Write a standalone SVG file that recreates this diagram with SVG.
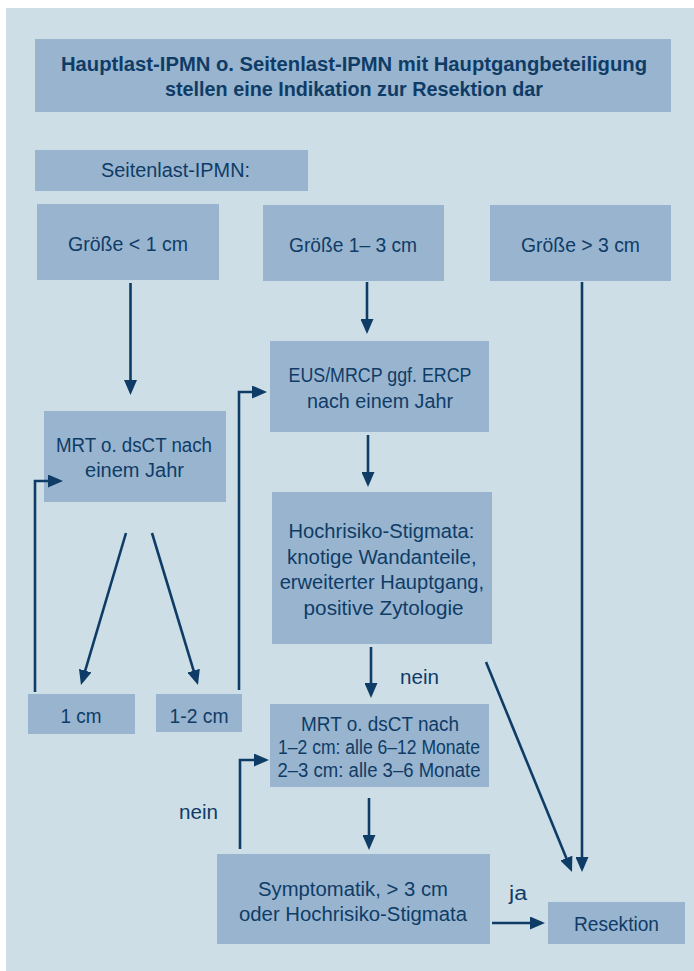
<svg xmlns="http://www.w3.org/2000/svg" width="694" height="971" viewBox="0 0 694 971">
<style>
.box{fill:#98b4cf}
.t{font-family:"Liberation Sans",Arial,sans-serif;font-size:20px;fill:#0f3c66;text-anchor:middle}
.b{font-weight:bold;font-size:20px}
.c{fill:none;stroke:#0f3c66;stroke-width:2.6}
</style>
<defs>
<marker id="ah" markerWidth="15" markerHeight="13" refX="11" refY="6.5" orient="auto" markerUnits="userSpaceOnUse">
<path d="M0,0 L15,6.5 L0,13 Z" fill="#0f3c66"/>
</marker>
</defs>
<rect x="0" y="0" width="694" height="971" fill="#ffffff"/>
<rect x="6" y="8" width="688" height="963" fill="#cedee7"/>

<g id="title">
<rect class="box" x="35" y="39" width="636" height="73"/>
<text class="t b" x="354" y="71" textLength="586" lengthAdjust="spacingAndGlyphs">Hauptlast-IPMN o. Seitenlast-IPMN mit Hauptgangbeteiligung</text>
<text class="t b" x="354" y="96" textLength="378" lengthAdjust="spacingAndGlyphs">stellen eine Indikation zur Resektion dar</text>
</g>
<g id="seitenlast">
<rect class="box" x="35" y="150" width="273" height="41"/>
<text class="t" x="175.5" y="177" textLength="149" lengthAdjust="spacingAndGlyphs">Seitenlast-IPMN:</text>
</g>
<g id="groesse1">
<rect class="box" x="37" y="204" width="182" height="76"/>
<text class="t" x="128" y="251" textLength="120" lengthAdjust="spacingAndGlyphs">Größe &lt; 1 cm</text>
</g>
<g id="groesse2">
<rect class="box" x="263" y="205" width="181" height="76"/>
<text class="t" x="353" y="252" textLength="128" lengthAdjust="spacingAndGlyphs">Größe 1– 3 cm</text>
</g>
<g id="groesse3">
<rect class="box" x="490" y="205" width="181" height="76"/>
<text class="t" x="580.5" y="252" textLength="119" lengthAdjust="spacingAndGlyphs">Größe &gt; 3 cm</text>
</g>
<g id="eus">
<rect class="box" x="270" y="341" width="219" height="91"/>
<text class="t" x="380" y="382" textLength="183" lengthAdjust="spacingAndGlyphs">EUS/MRCP ggf. ERCP</text>
<text class="t" x="380" y="408" textLength="146" lengthAdjust="spacingAndGlyphs">nach einem Jahr</text>
</g>
<g id="mrt1">
<rect class="box" x="44" y="411" width="182" height="91"/>
<text class="t" x="134" y="452" textLength="156" lengthAdjust="spacingAndGlyphs">MRT o. dsCT nach</text>
<text class="t" x="134.5" y="477" textLength="99" lengthAdjust="spacingAndGlyphs">einem Jahr</text>
</g>
<g id="hochrisiko">
<rect class="box" x="272" y="492" width="220" height="152"/>
<text class="t" x="381.4" y="538" textLength="186" lengthAdjust="spacingAndGlyphs">Hochrisiko-Stigmata:</text>
<text class="t" x="381.8" y="563.5" textLength="189.5" lengthAdjust="spacingAndGlyphs">knotige Wandanteile,</text>
<text class="t" x="381.9" y="589" textLength="204.4" lengthAdjust="spacingAndGlyphs">erweiterter Hauptgang,</text>
<text class="t" x="383.6" y="614.5" textLength="160" lengthAdjust="spacingAndGlyphs">positive Zytologie</text>
</g>
<g id="cm1">
<rect class="box" x="28" y="694" width="107" height="40"/>
<text class="t" x="81" y="723" textLength="41" lengthAdjust="spacingAndGlyphs">1 cm</text>
</g>
<g id="cm12">
<rect class="box" x="156" y="694" width="86" height="38"/>
<text class="t" x="199" y="723" textLength="59" lengthAdjust="spacingAndGlyphs">1-2 cm</text>
</g>
<g id="mrt2">
<rect class="box" x="270" y="704" width="219" height="83"/>
<text class="t" x="380" y="731" textLength="158" lengthAdjust="spacingAndGlyphs">MRT o. dsCT nach</text>
<text class="t" x="379" y="754" textLength="202" lengthAdjust="spacingAndGlyphs">1–2 cm: alle 6–12 Monate</text>
<text class="t" x="379" y="777" textLength="203" lengthAdjust="spacingAndGlyphs">2–3 cm: alle 3–6 Monate</text>
</g>
<g id="symptomatik">
<rect class="box" x="217" y="854" width="273" height="90"/>
<text class="t" x="353" y="896" textLength="190" lengthAdjust="spacingAndGlyphs">Symptomatik, &gt; 3 cm</text>
<text class="t" x="353" y="921" textLength="228" lengthAdjust="spacingAndGlyphs">oder Hochrisiko-Stigmata</text>
</g>
<g id="resektion">
<rect class="box" x="548" y="902" width="137" height="42"/>
<text class="t" x="616.5" y="931" textLength="85" lengthAdjust="spacingAndGlyphs">Resektion</text>
</g>

<g id="connectors">
<path class="c" marker-end="url(#ah)" d="M130.5 283 V391"/>
<path class="c" marker-end="url(#ah)" d="M367 282 V330"/>
<path class="c" marker-end="url(#ah)" d="M582 282 V868"/>
<path class="c" marker-end="url(#ah)" d="M368 435 V483"/>
<path class="c" marker-end="url(#ah)" d="M35 692 V481 H59"/>
<path class="c" marker-end="url(#ah)" d="M239 690 V392 H263"/>
<path class="c" marker-end="url(#ah)" d="M126 533 L82.1 681.2"/>
<path class="c" marker-end="url(#ah)" d="M152 533 L196.8 681.2"/>
<path class="c" marker-end="url(#ah)" d="M371 647 V694"/>
<path class="c" marker-end="url(#ah)" d="M486 662 L570.5 868.3"/>
<path class="c" marker-end="url(#ah)" d="M369 798 V846"/>
<path class="c" marker-end="url(#ah)" d="M240 849 V760 H265"/>
<path class="c" marker-end="url(#ah)" d="M492 923 H541"/>
<text class="t" x="419.5" y="684" textLength="39" lengthAdjust="spacingAndGlyphs">nein</text>
<text class="t" x="198.5" y="819" textLength="39" lengthAdjust="spacingAndGlyphs">nein</text>
<text class="t" x="518" y="900" textLength="18" lengthAdjust="spacingAndGlyphs">ja</text>
</g>
</svg>
